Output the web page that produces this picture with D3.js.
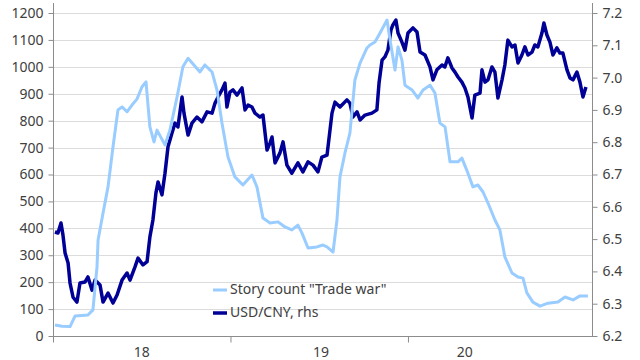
<!DOCTYPE html>
<html><head><meta charset="utf-8">
<script src="https://cdn.jsdelivr.net/npm/d3@7"></script>
<style>body{margin:0;background:#fff}</style></head>
<body><svg id="c" width="640" height="360"></svg>
<script>
// Story count "Trade war" (lhs): time (decimal years) and values
const storyT = [2018.011,2018.051,2018.096,2018.124,2018.197,2018.225,2018.248,2018.254,2018.282,2018.310,2018.338,2018.366,2018.389,2018.417,2018.445,2018.473,2018.501,2018.524,2018.546,2018.569,2018.586,2018.631,2018.659,2018.699,2018.732,2018.761,2018.828,2018.856,2018.896,2018.924,2018.952,2018.986,2019.025,2019.070,2019.121,2019.149,2019.183,2019.223,2019.268,2019.307,2019.346,2019.380,2019.403,2019.437,2019.487,2019.521,2019.544,2019.578,2019.600,2019.617,2019.645,2019.673,2019.701,2019.730,2019.769,2019.786,2019.814,2019.842,2019.882,2019.899,2019.927,2019.944,2019.966,2019.983,2020.023,2020.056,2020.085,2020.124,2020.152,2020.180,2020.209,2020.237,2020.282,2020.304,2020.338,2020.366,2020.394,2020.423,2020.451,2020.490,2020.518,2020.546,2020.586,2020.620,2020.648,2020.670,2020.704,2020.744,2020.789,2020.845,2020.885,2020.930,2020.969,2021.014];
const storyV = [41,36,35,74,78,97,257,357,457,554,702,840,851,833,858,880,925,944,777,721,765,710,765,888,1000,1032,981,1007,981,914,791,665,591,561,598,554,438,420,424,405,394,412,382,327,331,338,331,312,431,591,680,754,951,1014,1070,1081,1092,1125,1174,1100,988,1074,1025,932,914,884,914,932,903,791,777,647,647,661,605,554,561,535,494,431,394,294,234,219,215,160,126,111,122,126,145,134,149,149];
// USD/CNY (rhs)
const fxT = [2018.011,2018.028,2018.045,2018.056,2018.068,2018.085,2018.096,2018.113,2018.135,2018.152,2018.180,2018.197,2018.220,2018.237,2018.265,2018.282,2018.310,2018.338,2018.361,2018.389,2018.417,2018.434,2018.462,2018.479,2018.507,2018.530,2018.546,2018.563,2018.580,2018.592,2018.614,2018.631,2018.648,2018.670,2018.687,2018.704,2018.727,2018.738,2018.761,2018.783,2018.811,2018.839,2018.868,2018.896,2018.913,2018.930,2018.952,2018.969,2018.980,2018.997,2019.014,2019.037,2019.065,2019.082,2019.099,2019.121,2019.138,2019.166,2019.183,2019.206,2019.223,2019.234,2019.251,2019.279,2019.296,2019.318,2019.346,2019.380,2019.408,2019.437,2019.465,2019.493,2019.515,2019.544,2019.572,2019.589,2019.617,2019.656,2019.673,2019.690,2019.713,2019.730,2019.758,2019.797,2019.825,2019.837,2019.854,2019.870,2019.887,2019.904,2019.915,2019.932,2019.944,2019.966,2019.983,2020.000,2020.028,2020.051,2020.068,2020.096,2020.124,2020.141,2020.163,2020.192,2020.208,2020.225,2020.248,2020.265,2020.282,2020.304,2020.321,2020.338,2020.361,2020.377,2020.406,2020.417,2020.434,2020.451,2020.473,2020.490,2020.507,2020.530,2020.546,2020.563,2020.586,2020.603,2020.620,2020.642,2020.659,2020.676,2020.699,2020.715,2020.732,2020.755,2020.766,2020.783,2020.800,2020.817,2020.839,2020.856,2020.873,2020.896,2020.913,2020.930,2020.952,2020.969,2020.986,2021.003];
const fxV = [6.522,6.519,6.55,6.513,6.457,6.426,6.364,6.32,6.305,6.364,6.367,6.383,6.342,6.373,6.358,6.305,6.333,6.302,6.327,6.373,6.395,6.373,6.414,6.441,6.42,6.43,6.507,6.559,6.643,6.677,6.637,6.704,6.786,6.828,6.859,6.847,6.94,6.89,6.822,6.859,6.878,6.863,6.894,6.89,6.921,6.94,6.962,6.983,6.909,6.955,6.962,6.946,6.968,6.9,6.915,6.909,6.89,6.878,6.884,6.776,6.798,6.816,6.736,6.767,6.801,6.729,6.704,6.736,6.708,6.739,6.729,6.708,6.754,6.76,6.89,6.924,6.909,6.931,6.921,6.878,6.894,6.869,6.884,6.89,6.9,6.983,7.054,7.064,7.085,7.147,7.163,7.178,7.138,7.11,7.085,7.138,7.154,7.141,7.079,7.07,7.033,6.993,7.024,7.039,7.033,7.061,7.03,7.017,7.002,6.986,6.968,6.94,6.875,6.946,6.952,7.024,6.986,6.993,7.033,7.017,6.937,6.993,7.039,7.116,7.095,7.101,7.045,7.07,7.095,7.07,7.079,7.101,7.095,7.138,7.169,7.132,7.11,7.07,7.092,7.076,7.076,7.024,6.999,6.993,7.017,6.986,6.94,6.971];

const leftTicks = [0,100,200,300,400,500,600,700,800,900,1000,1100,1200];
const rightTicks = [6.2,6.3,6.4,6.5,6.6,6.7,6.8,6.9,7.0,7.1,7.2];
const yearTicks = [2018, 2019, 2020];
const yearLabels = ["18", "19", "20"];
const yearLabelAt = [2018.5, 2019.51, 2020.32];
const seriesNames = ['Story count "Trade war"', 'USD/CNY, rhs'];
const seriesColors = ["#99ccff", "#000096"];

const svg = d3.select("#c");
const L = 53, R = 592, T = 13, B = 336;
const x = d3.scaleLinear().domain([2018, 2021.037]).range([L, R]);
const yL = d3.scaleLinear().domain([0, 1200]).range([B, T]);
const yR = d3.scaleLinear().domain([6.2, 7.2]).range([B, T]);
const font = "'Noto Sans', sans-serif";
const txt = "#404040";
const axisCol = "#8c8c8c";

// gridlines
svg.append("g").selectAll("line").data(leftTicks.filter(d => d > 0)).join("line")
  .attr("x1", L).attr("x2", R)
  .attr("y1", d => Math.round(yL(d)) + 0.5).attr("y2", d => Math.round(yL(d)) + 0.5)
  .attr("stroke", "#dcdcdc").attr("stroke-width", 1);

function styleAxis(g) {
  g.select(".domain").remove();
  g.selectAll(".tick line").attr("stroke", axisCol);
  g.selectAll(".tick text").attr("fill", txt).style("font-family", font).style("font-size", "14px");
}

const gl = svg.append("g").attr("transform", `translate(${L + 0.5},0)`)
  .call(d3.axisLeft(yL).tickValues(leftTicks).tickSize(5).tickPadding(5).tickFormat(d3.format("d")));
styleAxis(gl);
const gr = svg.append("g").attr("transform", `translate(${R + 0.5},0)`)
  .call(d3.axisRight(yR).tickValues(rightTicks).tickSize(5).tickPadding(5).tickFormat(d3.format(".1f")));
styleAxis(gr);
const gb = svg.append("g").attr("transform", `translate(0,${B + 0.5})`)
  .call(d3.axisBottom(x).tickValues(yearTicks).tickSize(6).tickFormat(""));
styleAxis(gb);

// axis lines
svg.append("line").attr("x1", L + 0.5).attr("x2", L + 0.5).attr("y1", 3).attr("y2", B + 0.5).attr("stroke", axisCol);
svg.append("line").attr("x1", R + 0.5).attr("x2", R + 0.5).attr("y1", 3).attr("y2", B + 0.5).attr("stroke", axisCol);
svg.append("line").attr("x1", L).attr("x2", R + 1).attr("y1", B + 0.5).attr("y2", B + 0.5).attr("stroke", axisCol);

// year labels
svg.append("g").selectAll("text").data(yearLabels).join("text")
  .attr("x", (d, i) => x(yearLabelAt[i])).attr("y", 353)
  .attr("text-anchor", "middle").attr("dominant-baseline", "middle")
  .attr("fill", txt).style("font-family", font).style("font-size", "14px").text(d => d);

// lines
const fxLine = d3.line().x((d, i) => x(fxT[i])).y(d => yR(d));
const stLine = d3.line().x((d, i) => x(storyT[i])).y(d => yL(d));
svg.append("path").attr("d", fxLine(fxV)).attr("fill", "none")
  .attr("stroke", seriesColors[1]).attr("stroke-width", 3.5).attr("stroke-linejoin", "round");
svg.append("path").attr("d", stLine(storyV)).attr("fill", "none")
  .attr("stroke", seriesColors[0]).attr("stroke-width", 3).attr("stroke-linejoin", "round");

// legend
const lg = svg.append("g").selectAll("g").data(seriesNames).join("g")
  .attr("transform", (d, i) => `translate(213,${290 + i * 23})`);
lg.append("line").attr("x1", 0).attr("x2", 14).attr("y1", 0).attr("y2", 0)
  .attr("stroke", (d, i) => seriesColors[i]).attr("stroke-width", (d, i) => i ? 3.5 : 3);
lg.append("text").attr("x", 17).attr("y", 0).attr("dominant-baseline", "middle")
  .attr("fill", txt).style("font-family", font).style("font-size", "14px").text(d => d);
</script></body></html>
